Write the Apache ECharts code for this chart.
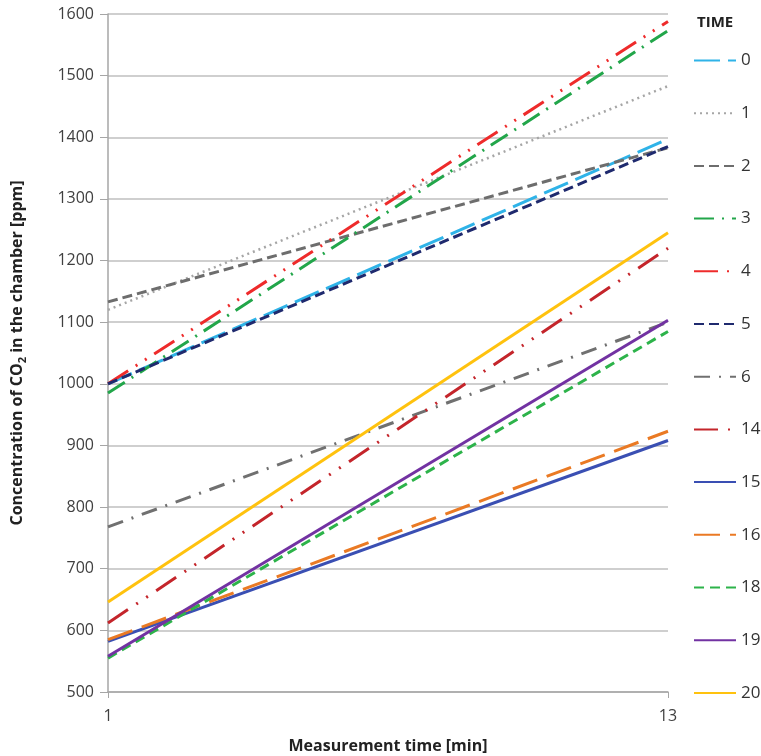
<!DOCTYPE html>
<html>
<head>
<meta charset="utf-8">
<script src="https://cdn.jsdelivr.net/npm/echarts@6/dist/echarts.min.js"></script>
<style>
  html, body { margin: 0; padding: 0; background: #fff; }
  #main { width: 761px; height: 756px; }
</style>
</head>
<body>
<div id="main"></div>
<script>
// time of measurement (x) and CO2 concentration at start / end of each run
var times = [1, 13];
var names = ['0', '1', '2', '3', '4', '5', '6', '14', '15', '16', '18', '19', '20'];
var startVals = [1000, 1120, 1133, 985, 1000, 1000, 768, 612, 582, 585, 555, 558, 646];
var endVals   = [1397, 1483, 1383, 1573, 1588, 1385, 1100, 1220, 908, 923, 1085, 1103, 1245];
var yTicks = [500, 600, 700, 800, 900, 1000, 1100, 1200, 1300, 1400, 1500, 1600];

var colors = ['#2fb3e8', '#a6a6a6', '#6d6d6d', '#22a64a', '#ee2b2b', '#1f2a6e',
              '#707070', '#c4252b', '#3a4fb3', '#ea7a24', '#2db34a', '#7232a2', '#ffc20e'];
var dashes = [[26, 8], [2, 4], [10, 5], [20, 8, 2, 8], [24, 9, 2, 9, 2, 9], [10, 5],
              [16, 9, 2, 9], [24, 10, 2, 10, 2, 10], 'solid', [26, 10], [10, 6], 'solid', 'solid'];
var widths = [3, 2.5, 3, 3, 3, 3, 3, 3, 3, 3, 3, 3, 3];

var myChart = echarts.init(document.getElementById('main'));

var series = names.map(function (n, i) {
    return {
        name: n,
        type: 'line',
        symbol: 'none',
        color: colors[i],
        lineStyle: { color: colors[i], width: widths[i], type: dashes[i], cap: 'butt' },
        data: [[times[0], startVals[i]], [times[1], endVals[i]]]
    };
});

var option = {
    animation: false,
    textStyle: { fontFamily: 'Open Sans' },
    title: {
        text: 'TIME',
        left: 692,
        top: 10,
        textStyle: { fontSize: 15, fontWeight: 'bold', color: '#222', fontFamily: 'Open Sans' }
    },
    legend: {
        orient: 'vertical',
        left: 688,
        top: 47,
        itemWidth: 42,
        itemHeight: 14,
        itemGap: 35.7,
        itemStyle: { opacity: 0 },
        textStyle: { fontSize: 17, color: '#333', fontFamily: 'Open Sans' },
        data: names
    },
    grid: { left: 108, right: 93, top: 14, bottom: 64, outerBoundsMode: 'none' },
    xAxis: {
        type: 'value',
        min: times[0],
        max: times[1],
        name: 'Measurement time [min]',
        nameLocation: 'middle',
        nameGap: 46,
        nameTextStyle: { fontSize: 16, fontWeight: 'bold', color: '#222' },
        axisLine: { lineStyle: { color: '#a6a6a6', width: 1.5 } },
        axisTick: { show: true, customValues: times, length: 6, lineStyle: { color: '#a6a6a6' } },
        axisLabel: { customValues: times, fontSize: 16, color: '#404040', margin: 16 },
        splitLine: { show: false }
    },
    yAxis: {
        type: 'value',
        min: yTicks[0],
        max: yTicks[yTicks.length - 1],
        interval: 100,
        name: '{a|Concentration of CO}{s|2}{a| in the chamber [ppm]}',
        nameLocation: 'middle',
        nameGap: 80,
        nameTextStyle: {
            rich: {
                a: { fontSize: 16, fontWeight: 'bold', color: '#222', fontFamily: 'Open Sans', lineHeight: 22 },
                s: { fontSize: 11, fontWeight: 'bold', color: '#222', fontFamily: 'Open Sans', lineHeight: 22, verticalAlign: 'bottom', padding: [8, 0, 0, 0] }
            }
        },
        axisLine: { show: true, lineStyle: { color: '#a6a6a6', width: 1.5 } },
        axisTick: { show: true, length: 8, lineStyle: { color: '#a6a6a6' } },
        axisLabel: { fontSize: 16, color: '#404040', margin: 14, formatter: function (v) { return String(v); } },
        splitLine: { lineStyle: { color: '#bfbfbf', width: 1.5 } }
    },
    series: series
};

myChart.setOption(option);
</script>
</body>
</html>
